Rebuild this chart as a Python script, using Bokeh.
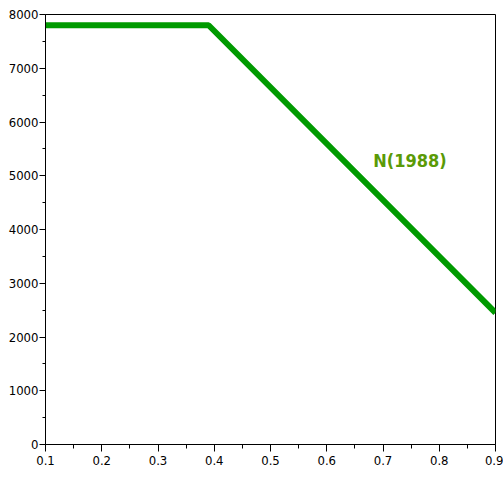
from bokeh.plotting import figure
from bokeh.models import Range1d, FixedTicker, Label
from bokeh.embed import file_html
from bokeh.resources import INLINE

# Data
x_vals = [0.1, 0.39, 0.9]
n_vals = [7800, 7800, 2450]
label_text = "N(1988)"
label_x = 0.748
label_y = 5290
x_ticks = [0.1, 0.2, 0.3, 0.4, 0.5, 0.6, 0.7, 0.8, 0.9]
x_minor = [0.15, 0.25, 0.35, 0.45, 0.55, 0.65, 0.75, 0.85]
y_ticks = [0, 1000, 2000, 3000, 4000, 5000, 6000, 7000, 8000]
y_minor = [500, 1500, 2500, 3500, 4500, 5500, 6500, 7500]

FONT = "'Liberation Sans Narrow', 'DejaVu Sans Condensed', 'Roboto Condensed', 'Liberation Sans'"

p = figure(width=503, height=475, output_backend="svg", toolbar_location=None,
           x_range=Range1d(0.1, 0.9), y_range=Range1d(0, 8000),
           min_border_left=45, min_border_top=14, min_border_right=8, min_border_bottom=31)

p.xgrid.visible = False
p.ygrid.visible = False
p.outline_line_color = "black"
p.outline_line_width = 1
p.background_fill_color = "white"
p.border_fill_color = "white"

p.line(x_vals, n_vals, line_color="#009a00", line_width=6)

p.add_layout(Label(x=label_x, y=label_y, text=label_text, text_font=FONT,
                   text_font_style="bold", text_font_size="18px", text_color="#5a9a06",
                   text_align="center", text_baseline="middle"))

p.xaxis.ticker = FixedTicker(ticks=x_ticks, minor_ticks=x_minor)
p.yaxis.ticker = FixedTicker(ticks=y_ticks, minor_ticks=y_minor)

for ax in (p.xaxis[0], p.yaxis[0]):
    ax.axis_line_color = "black"
    ax.axis_line_width = 1
    ax.major_tick_line_color = "black"
    ax.minor_tick_line_color = "black"
    ax.major_tick_in = 0
    ax.minor_tick_in = 0
    ax.major_label_text_font = FONT
    ax.major_label_text_font_size = "13px"
    ax.major_label_text_color = "black"

p.xaxis.major_tick_out = 7
p.xaxis.minor_tick_out = 4
p.xaxis.major_label_standoff = 4
p.yaxis.major_tick_out = 6
p.yaxis.minor_tick_out = 3
p.yaxis.major_label_standoff = 1

open("out.html", "w").write(file_html(p, INLINE))
